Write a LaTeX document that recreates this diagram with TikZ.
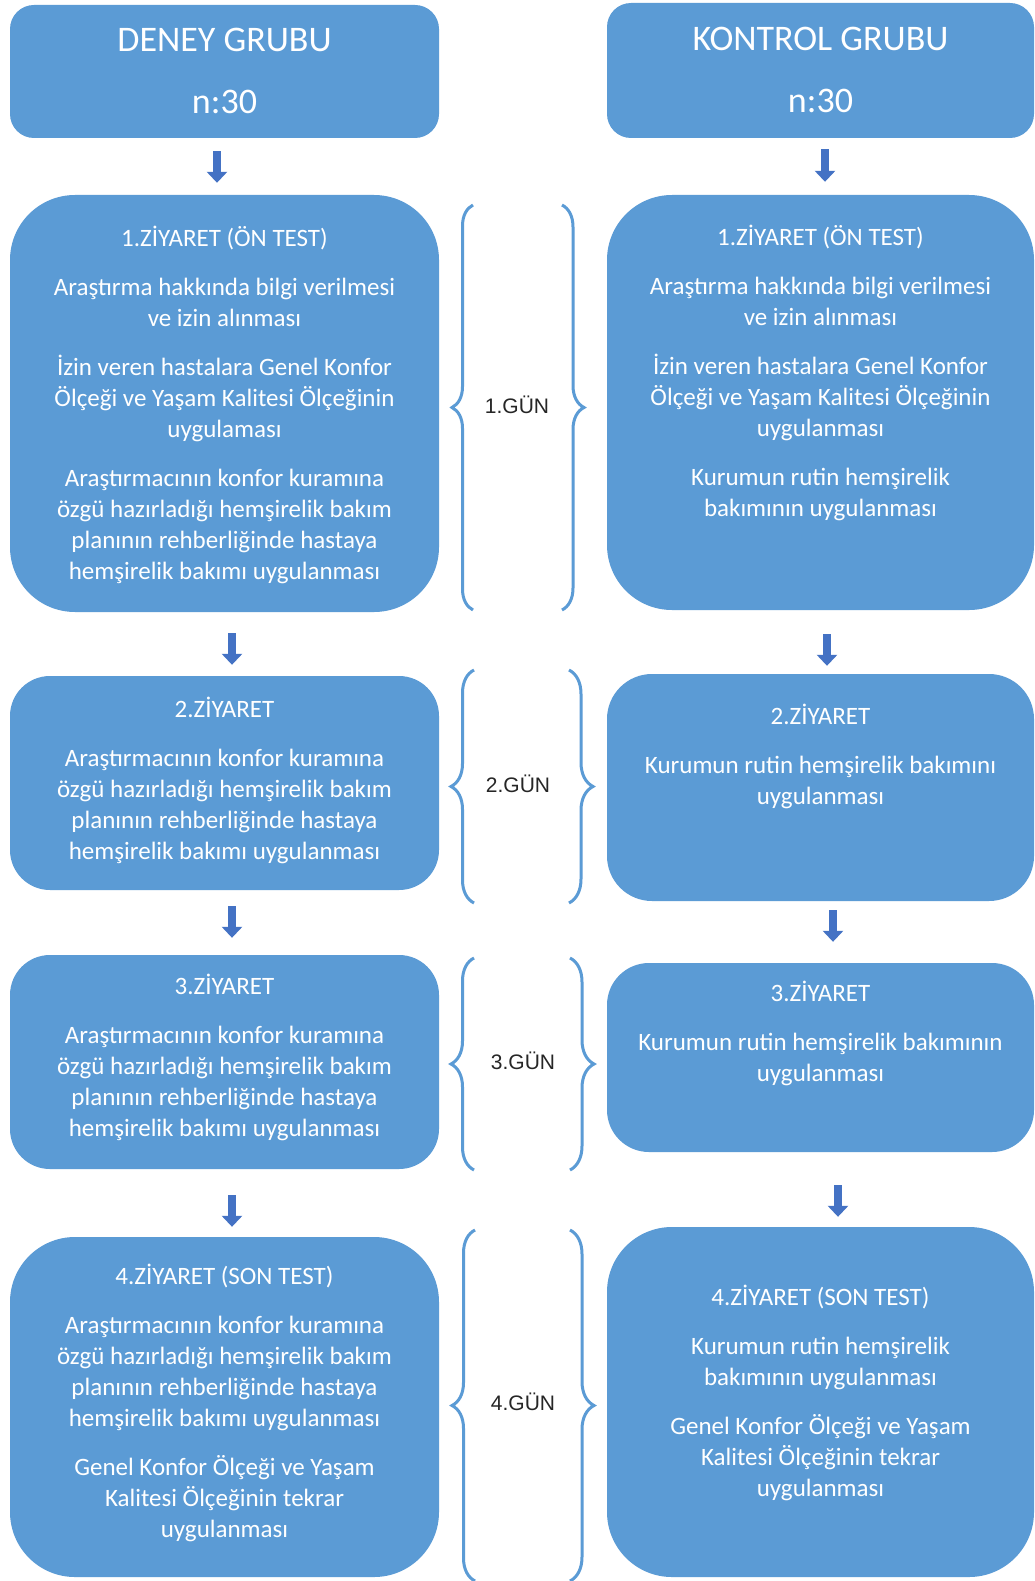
\documentclass[tikz,border=0pt]{standalone}
\usepackage{fontspec}
\setmainfont{Carlito}
\newfontfamily\gunfont{Liberation Sans}
\usetikzlibrary{arrows.meta,decorations.pathreplacing}
\definecolor{boxblue}{RGB}{91,155,213}
\definecolor{arrblue}{RGB}{68,114,196}
\definecolor{bracecol}{RGB}{91,155,213}
\begin{document}
\begin{tikzpicture}[x=1pt,y=-1pt,
  box/.style={fill=boxblue, draw=none, inner sep=0pt},
  txt/.style={text=white, align=center, inner sep=0pt, font=\fontsize{25}{31}\selectfont},
  head/.style={text=white, align=center, inner sep=0pt, font=\fontsize{36}{44}\selectfont},
  arr/.style={draw=arrblue, line width=8pt, -{Triangle[width=20pt,length=11pt]}},
  bracestyle/.style={draw=bracecol, line width=3pt, decorate, decoration={brace, amplitude=#1}},
  gun/.style={text=black!85, font=\gunfont\fontsize{21}{25}\selectfont, inner sep=0pt}
]
\useasboundingbox[fill=white] (0,0) rectangle (1034,1581);

% boxes
\node[box, minimum width=429pt, minimum height=133pt, rounded corners=24pt] (d0) at (224.5,71.5) {};
\node[box, minimum width=427pt, minimum height=135pt, rounded corners=24pt] (k0) at (820.5,70.5) {};
\node[box, minimum width=429pt, minimum height=417pt, rounded corners=65pt] (d1) at (224.5,403.5) {};
\node[box, minimum width=427pt, minimum height=415pt, rounded corners=65pt] (k1) at (820.5,402.5) {};
\node[box, minimum width=429pt, minimum height=214pt, rounded corners=40pt] (d2) at (224.5,783) {};
\node[box, minimum width=427pt, minimum height=227pt, rounded corners=45pt] (k2) at (820.5,787.5) {};
\node[box, minimum width=429pt, minimum height=214pt, rounded corners=40pt] (d3) at (224.5,1062) {};
\node[box, minimum width=427pt, minimum height=189pt, rounded corners=42pt] (k3) at (820.5,1057.5) {};
\node[box, minimum width=429pt, minimum height=340pt, rounded corners=65pt] (d4) at (224.5,1407) {};
\node[box, minimum width=427pt, minimum height=350pt, rounded corners=65pt] (k4) at (820.5,1402) {};

% texts
\node[head] (d0t) at (224.5,71) {DENEY GRUBU\\[18pt]n:30};
\node[head] (k0t) at (820.5,69.5) {KONTROL GRUBU\\[18pt]n:30};

\node[txt] (d1t) at (224.5,405) {1.ZİYARET (ÖN TEST)\\[18pt]
Araştırma hakkında bilgi verilmesi\\ve izin alınması\\[18pt]
İzin veren hastalara Genel Konfor\\Ölçeği ve Yaşam Kalitesi Ölçeğinin\\uygulaması\\[18pt]
Araştırmacının konfor kuramına\\özgü hazırladığı hemşirelik bakım\\planının rehberliğinde hastaya\\hemşirelik bakımı uygulanması};

\node[txt] (k1t) at (820.5,373) {1.ZİYARET (ÖN TEST)\\[18pt]
Araştırma hakkında bilgi verilmesi\\ve izin alınması\\[18pt]
İzin veren hastalara Genel Konfor\\Ölçeği ve Yaşam Kalitesi Ölçeğinin\\uygulanması\\[18pt]
Kurumun rutin hemşirelik\\bakımının uygulanması};

\node[txt] (d2t) at (224.5,780) {2.ZİYARET\\[18pt]
Araştırmacının konfor kuramına\\özgü hazırladığı hemşirelik bakım\\planının rehberliğinde hastaya\\hemşirelik bakımı uygulanması};

\node[txt] (k2t) at (820.5,756) {2.ZİYARET\\[18pt]
Kurumun rutin hemşirelik bakımını\\uygulanması};

\node[txt] (d3t) at (224.5,1057) {3.ZİYARET\\[18pt]
Araştırmacının konfor kuramına\\özgü hazırladığı hemşirelik bakım\\planının rehberliğinde hastaya\\hemşirelik bakımı uygulanması};

\node[txt] (k3t) at (820.5,1033) {3.ZİYARET\\[18pt]
Kurumun rutin hemşirelik bakımının\\uygulanması};

\node[txt] (d4t) at (224.5,1403) {4.ZİYARET (SON TEST)\\[18pt]
Araştırmacının konfor kuramına\\özgü hazırladığı hemşirelik bakım\\planının rehberliğinde hastaya\\hemşirelik bakımı uygulanması\\[18pt]
Genel Konfor Ölçeği ve Yaşam\\Kalitesi Ölçeğinin tekrar\\uygulanması};

\node[txt] (k4t) at (820.5,1393) {4.ZİYARET (SON TEST)\\[18pt]
Kurumun rutin hemşirelik\\bakımının uygulanması\\[18pt]
Genel Konfor Ölçeği ve Yaşam\\Kalitesi Ölçeğinin tekrar\\uygulanması};

% arrows
\draw[arr, shorten <=13pt, shorten >=12pt] ([xshift=-7.5pt]d0.south) -- ([xshift=-7.5pt]d1.north);
\draw[arr, shorten <=21pt, shorten >=11pt] ([xshift=7.5pt]d1.south) -- ([xshift=7.5pt]d2.north);
\draw[arr, shorten <=16pt, shorten >=17pt] ([xshift=7.5pt]d2.south) -- ([xshift=7.5pt]d3.north);
\draw[arr, shorten <=26pt, shorten >=10pt] ([xshift=7.5pt]d3.south) -- ([xshift=7.5pt]d4.north);
\draw[arr, shorten <=11pt, shorten >=13pt] ([xshift=4.5pt]k0.south) -- ([xshift=4.5pt]k1.north);
\draw[arr, shorten <=24pt, shorten >=8pt] ([xshift=6.5pt]k1.south) -- ([xshift=6.5pt]k2.north);
\draw[arr, shorten <=9pt, shorten >=21pt] ([xshift=12.5pt]k2.south) -- ([xshift=12.5pt]k3.north);
\draw[arr, shorten <=33pt, shorten >=10pt] ([xshift=17.5pt]k3.south) -- ([xshift=17.5pt]k4.north);

% braces
\draw[bracestyle=21pt] (473,610) -- (473,205);
\draw[bracestyle=22pt] (562,205) -- (562,610);
\draw[bracestyle=23pt] (474,903) -- (474,670);
\draw[bracestyle=24pt] (569,670) -- (569,903);
\draw[bracestyle=23pt] (474,1170) -- (474,958);
\draw[bracestyle=24pt] (570,958) -- (570,1170);
\draw[bracestyle=23pt] (475,1581) -- (475,1230);
\draw[bracestyle=24pt] (570,1230) -- (570,1581);

% day labels
\node[gun] (g1) at (517,405) {1.GÜN};
\node[gun] (g2) at (518,784) {2.GÜN};
\node[gun] (g3) at (523,1061) {3.GÜN};
\node[gun] (g4) at (523,1402) {4.GÜN};
\end{tikzpicture}
\end{document}
